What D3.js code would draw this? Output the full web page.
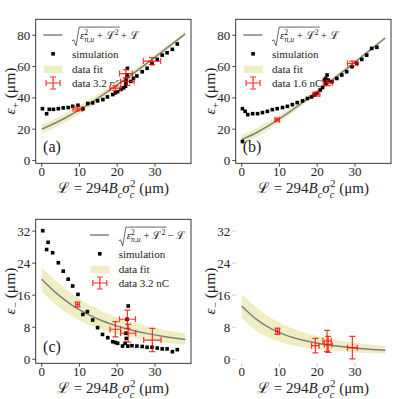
<!DOCTYPE html>
<html>
<head>
<meta charset="utf-8">
<script src="https://cdn.jsdelivr.net/npm/d3@7"></script>
<style>
  body { margin: 0; background: #fff; }
  svg { display: block; font-family: 'Liberation Serif', 'DejaVu Serif', serif; }
</style>
</head>
<body>
<script>

// Ticks.
var xTicks = [0, 10, 20, 30];
var yTicksPlus = [0, 20, 40, 60, 80];
var yTicksMinus = [0, 8, 16, 24, 32];

// Fit curves, sampled along L (um).
var fitL = [0, 4, 8, 12, 16, 20, 24, 28, 32, 38];
var fitPlusA = [20, 24.4, 29.54, 35.32, 41.61, 48.28, 55.24, 62.41, 69.74, 80.94];
var fitPlusALo = [17, 21.46, 26.79, 32.81, 39.35, 46.25, 53.41, 60.76, 68.24, 79.63];
var fitPlusAHi = [23, 27.35, 32.35, 37.94, 44.02, 50.48, 57.24, 64.24, 71.41, 82.42];
var fitPlusB = [13.3, 17.89, 23.52, 29.91, 36.81, 44.02, 51.44, 59.0, 66.65, 78.26];
var fitPlusBLo = [10.3, 15.05, 21.04, 27.81, 35.03, 42.5, 50.12, 57.83, 65.62, 77.37];
var fitPlusBHi = [16.3, 20.78, 26.16, 32.24, 38.84, 45.8, 53.01, 60.4, 67.91, 79.35];
var fitMinusA = [20, 16.4, 13.54, 11.32, 9.61, 8.28, 7.24, 6.41, 5.74, 4.94];
var fitMinusALo = [17, 13.46, 10.79, 8.81, 7.35, 6.25, 5.41, 4.76, 4.24, 3.63];
var fitMinusAHi = [23, 19.35, 16.35, 13.94, 12.02, 10.48, 9.24, 8.24, 7.41, 6.42];
var fitMinusB = [13.3, 9.89, 7.52, 5.91, 4.81, 4.02, 3.44, 3.0, 2.65, 2.26];
var fitMinusBLo = [10.3, 7.05, 5.04, 3.81, 3.03, 2.5, 2.12, 1.83, 1.62, 1.37];
var fitMinusBHi = [16.3, 12.78, 10.16, 8.24, 6.84, 5.8, 5.01, 4.4, 3.91, 3.35];

// Simulation points.
var simA_L = [0.2, 1.3, 2.0, 3.1, 4.4, 5.7, 7.0, 8.2, 9.6, 10.9, 12.2, 13.5, 14.8, 16.2, 17.4, 18.8, 19.5, 20.1, 21.0, 21.7,
  22.2, 22.3, 22.4, 22.6, 22.7, 23.6, 24.3, 25.2, 26.6, 27.9, 29.2, 30.6, 31.9, 33.2, 34.6, 35.9];
var simA_eps = [33.1, 29.9, 32.7, 32.7, 33.1, 33.6, 33.8, 34.6, 35.3, 32.9, 36.4, 36.8, 38.1, 38.9, 40.6, 42.1, 43.2, 44.0, 45.4, 46.4,
  47.5, 49.2, 51.4, 54.6, 58.9, 50.5, 52.5, 54.0, 56.7, 58.9, 62.0, 64.6, 67.3, 68.8, 71.0, 74.4];
var simB_L = [0.2, 0.2, 0.9, 1.6, 2.9, 4.2, 5.5, 6.8, 8.1, 9.4, 10.8, 12.1, 13.4, 14.7, 16.1, 17.4, 18.5, 19.2, 19.9, 20.8,
  21.4, 21.9, 22.2, 22.3, 22.6, 22.9, 23.9, 25.2, 26.5, 27.8, 29.2, 30.5, 31.8, 33.1, 34.4, 35.8];
var simB_eps = [12.1, 33.1, 31.4, 29.3, 29.9, 29.9, 30.6, 31.4, 32.5, 33.1, 33.8, 34.6, 35.7, 37.0, 38.1, 39.6, 40.6, 41.7, 42.8, 45.0,
  46.6, 51.4, 52.4, 49.2, 54.6, 51.4, 50.3, 52.4, 54.6, 56.7, 59.9, 62.0, 64.6, 67.3, 71.6, 72.3];
var simC_L = [0.27, 1.3, 1.7, 2.9, 4.4, 5.7, 7.0, 8.2, 9.6, 10.9, 12.1, 13.5, 14.8, 16.1, 17.5, 18.8, 19.5, 20.1, 21.4, 22.1,
  22.4, 22.3, 22.6, 22.9, 22.8, 23.9, 25.2, 26.6, 27.9, 29.2, 30.6, 31.9, 33.2, 34.6, 35.9];
var simC_eps = [32.1, 27.4, 29.2, 26.6, 24.1, 22.0, 20.0, 18.3, 16.2, 11.2, 11.9, 9.8, 7.9, 6.2, 5.4, 4.4, 4.2, 4.0, 3.3, 4.0,
  5.2, 6.5, 10.0, 13.3, 3.3, 3.4, 3.3, 3.2, 3.0, 3.0, 2.8, 2.6, 2.6, 1.9, 2.4];

// Measured data with errors.
var dataA_L = [9.5, 19.5, 22.3, 22.7, 29.2];
var dataA_eps = [33.0, 46.2, 55.5, 50.5, 63.5];
var dataA_Lerr = [1.2, 1.4, 1.7, 1.8, 2.3];
var dataA_epsErr = [1.3, 1.5, 2.5, 2.5, 2.3];
var dataB_L = [9.4, 19.8, 22.8, 29.3];
var dataB_eps = [26.1, 42.3, 49.6, 62.0];
var dataB_Lerr = [0.6, 0.9, 1.2, 1.3];
var dataB_epsErr = [1.0, 1.2, 1.8, 1.5];
var dataC_L = [9.5, 19.5, 22.7, 22.9, 29.3];
var dataC_eps = [13.7, 7.5, 10.0, 6.5, 4.8];
var dataC_Lerr = [0.5, 1.4, 2.1, 2.0, 2.3];
var dataC_epsErr = [0.6, 1.9, 2.3, 2.2, 2.9];
var dataD_L = [9.5, 19.5, 22.6, 22.9, 29.3];
var dataD_eps = [7.0, 3.4, 4.6, 3.7, 2.9];
var dataD_Lerr = [0.5, 1.0, 1.1, 1.0, 1.3];
var dataD_epsErr = [0.8, 1.8, 2.6, 2.0, 2.8];

var RED = '#ff0000';
var BAND = '#eeeec2';
var FIT = '#808080';

var svg = d3.select('body').append('svg')
  .attr('width', 399)
  .attr('height', 399);

/*
 * Zip two arrays into point objects.
 */
function zip(xs, ys) {
  return xs.map(function(x, i) { return { x: x, y: ys[i] }; });
}

/*
 * Append a text with sub/superscripts as tspans.
 */
function mathText(parent, x, y, parts, size, anchor) {
  var t = parent.append('text')
    .attr('x', x)
    .attr('y', y)
    .attr('font-size', size)
    .attr('fill', '#222')
    .attr('text-anchor', anchor || 'start');
  var shift = 0;
  parts.forEach(function(p) {
    var s = p.sub ? size * 0.3 : p.sup ? -size * 0.4 : 0;
    var ts = t.append('tspan').attr('dy', s - shift).text(p.t);
    if (p.sub || p.sup) ts.attr('font-size', size * 0.7);
    if (p.it) ts.attr('font-style', 'italic');
    if (p.dx) ts.attr('dx', p.dx);
    shift = s;
  });
  return t;
}

/*
 * Legend formula: sqrt(eps_nu^2 + L^2) +/- L.
 */
function rootFormula(parent, x, y, sign) {
  var inner = mathText(parent, x + 8, y, [
    { t: 'ε', it: true }, { t: '2', sup: true }, { t: 'n,u', sub: true, it: true, dx: -3.8 },
    { t: ' + ℒ' }, { t: '2', sup: true }
  ], 11);
  var bb = inner.node().getBBox();
  var top = bb.y - 0.5, bot = bb.y + bb.height + 1.5, end = bb.x + bb.width + 1;
  parent.append('path')
    .attr('d', 'M' + x + ',' + (bot - 5) + 'L' + (x + 1.8) + ',' + (bot - 6) +
      'L' + (x + 4) + ',' + bot + 'L' + (x + 7.2) + ',' + top + 'L' + end + ',' + top)
    .attr('fill', 'none')
    .attr('stroke', '#222')
    .attr('stroke-width', 0.7);
  mathText(parent, end + 1, y, [{ t: ' ' + sign + ' ℒ' }], 11);
}

/*
 * Error bar glyph (horizontal and vertical with caps).
 */
function errorBar(g, cx, cy, hx, hy) {
  var path = 'M' + (cx - hx) + ',' + cy + 'H' + (cx + hx) +
    'M' + cx + ',' + (cy - hy) + 'V' + (cy + hy) +
    'M' + (cx - hx) + ',' + (cy - 3) + 'V' + (cy + 3) +
    'M' + (cx + hx) + ',' + (cy - 3) + 'V' + (cy + 3) +
    'M' + (cx - 3) + ',' + (cy - hy) + 'H' + (cx + 3) +
    'M' + (cx - 3) + ',' + (cy + hy) + 'H' + (cx + 3);
  g.append('path')
    .attr('d', path)
    .attr('fill', 'none')
    .attr('stroke', RED)
    .attr('stroke-opacity', 0.8)
    .attr('stroke-width', 1.2);
}

/*
 * Draw one panel.
 */
function drawPanel(p) {

  var g = svg.append('g');
  var left = p.ox + 35.7, right = p.ox + 191, top = p.oy + 19.3, bottom = p.oy + 163.3;

  var x = d3.scaleLinear().domain([-1.59, 39.53]).range([left, right]);
  var y = d3.scaleLinear().domain(p.yDomain).range([bottom, top]);

  // Legend (drawn first, the data sits on top of it).
  if (p.legend) {
    var lg = g.append('g');
    var lx = p.legend.x, ly = p.legend.y, tx = lx + 28.7;
    lg.append('line')
      .attr('x1', lx).attr('x2', lx + 19).attr('y1', ly).attr('y2', ly)
      .attr('stroke', FIT).attr('stroke-width', 1.5);
    rootFormula(lg, tx, ly + 4, p.sign);
    lg.append('rect')
      .attr('x', lx + 8).attr('y', ly + 17).attr('width', 3.6).attr('height', 3.6)
      .attr('fill', '#000');
    mathText(lg, tx, ly + 23, [{ t: 'simulation' }], 11);
    lg.append('rect')
      .attr('x', lx + 0.5).attr('y', ly + 31).attr('width', 19).attr('height', 7)
      .attr('fill', BAND);
    mathText(lg, tx, ly + 38, [{ t: 'data fit' }], 11);
    errorBar(lg, lx + 9.8, ly + 48, 7, 6);
    mathText(lg, tx, ly + 52, [{ t: p.legend.label }], 11);
  }

  // Fit band and curve.
  var fit = fitL.map(function(L, i) {
    return { x: L, y: p.fit[i], lo: p.fitLo[i], hi: p.fitHi[i] };
  });
  g.append('path')
    .datum(fit)
    .attr('d', d3.area()
      .x(function(d) { return x(d.x); })
      .y0(function(d) { return y(d.lo); })
      .y1(function(d) { return y(d.hi); })
      .curve(d3.curveMonotoneX))
    .attr('fill', BAND);
  g.append('path')
    .datum(fit)
    .attr('d', d3.line()
      .x(function(d) { return x(d.x); })
      .y(function(d) { return y(d.y); })
      .curve(d3.curveMonotoneX))
    .attr('fill', 'none')
    .attr('stroke', FIT)
    .attr('stroke-width', 1.5);

  // Simulation points.
  if (p.simL) {
    g.selectAll('.sim')
      .data(zip(p.simL, p.simEps))
      .enter().append('rect')
      .attr('x', function(d) { return x(d.x) - 1.8; })
      .attr('y', function(d) { return y(d.y) - 1.8; })
      .attr('width', 3.6)
      .attr('height', 3.6)
      .attr('fill', '#000');
  }

  // Data with error bars.
  p.dataL.forEach(function(L, i) {
    var cx = x(L), cy = y(p.dataEps[i]);
    errorBar(g, cx, cy, x(L + p.dataLerr[i]) - cx, cy - y(p.dataEps[i] + p.dataEpsErr[i]));
  });

  // Frame.
  var tickColor = p.plain ? '#bbb' : '#222';
  if (!p.plain) {
    g.append('rect')
      .attr('x', left).attr('y', top)
      .attr('width', right - left).attr('height', bottom - top)
      .attr('fill', 'none')
      .attr('stroke', '#222')
      .attr('stroke-width', 0.9);
  }

  // Axes ticks and labels.
  xTicks.forEach(function(t) {
    g.append('line')
      .attr('x1', x(t)).attr('x2', x(t))
      .attr('y1', bottom).attr('y2', bottom + 3.5)
      .attr('stroke', tickColor).attr('stroke-width', 0.8);
    mathText(g, x(t), bottom + 13, [{ t: String(t) }], 13, 'middle');
  });
  p.yTicks.forEach(function(t) {
    g.append('line')
      .attr('x1', left - 3.5).attr('x2', left)
      .attr('y1', y(t)).attr('y2', y(t))
      .attr('stroke', tickColor).attr('stroke-width', 0.8);
    mathText(g, left - 5.5, y(t) + 4.5, [{ t: String(t) }], 13, 'end');
  });

  // Axis titles.
  mathText(g, p.ox + 113, p.oy + 193, [
    { t: 'ℒ = 294' }, { t: 'B', it: true }, { t: 'c', sub: true, it: true },
    { t: 'σ', it: true }, { t: 'c', sub: true, it: true }, { t: '2', sup: true, dx: -4.2 },
    { t: ' (μm)' }
  ], 15, 'middle');
  var yl = g.append('g')
    .attr('transform', 'translate(' + (p.ox + 14.5) + ',' + (p.oy + 91) + ') rotate(-90)');
  mathText(yl, 0, 0, [{ t: 'ε', it: true }, { t: p.sign, sub: true }, { t: ' (μm)' }], 15.5, 'middle');

  // Panel tag.
  if (p.tag) mathText(g, p.ox + 52, p.oy + 152, [{ t: p.tag }], 16, 'middle');
}

drawPanel({
  ox: 0, oy: 0, yDomain: [-1.8, 90.2], yTicks: yTicksPlus, sign: '+', tag: '(a)',
  fit: fitPlusA, fitLo: fitPlusALo, fitHi: fitPlusAHi,
  simL: simA_L, simEps: simA_eps,
  dataL: dataA_L, dataEps: dataA_eps, dataLerr: dataA_Lerr, dataEpsErr: dataA_epsErr,
  legend: { x: 43.3, y: 35, label: 'data 3.2 nC' }
});

drawPanel({
  ox: 200, oy: 0, yDomain: [-1.8, 90.2], yTicks: yTicksPlus, sign: '+', tag: '(b)',
  fit: fitPlusB, fitLo: fitPlusBLo, fitHi: fitPlusBHi,
  simL: simB_L, simEps: simB_eps,
  dataL: dataB_L, dataEps: dataB_eps, dataLerr: dataB_Lerr, dataEpsErr: dataB_epsErr,
  legend: { x: 243.3, y: 35, label: 'data 1.6 nC' }
});

drawPanel({
  ox: 0, oy: 200, yDomain: [-1, 34.95], yTicks: yTicksMinus, sign: '−', tag: '(c)',
  fit: fitMinusA, fitLo: fitMinusALo, fitHi: fitMinusAHi,
  simL: simC_L, simEps: simC_eps,
  dataL: dataC_L, dataEps: dataC_eps, dataLerr: dataC_Lerr, dataEpsErr: dataC_epsErr,
  legend: { x: 90, y: 235, label: 'data 3.2 nC' }
});

drawPanel({
  ox: 200, oy: 200, yDomain: [-1, 34.95], yTicks: yTicksMinus, sign: '−', plain: true,
  fit: fitMinusB, fitLo: fitMinusBLo, fitHi: fitMinusBHi,
  dataL: dataD_L, dataEps: dataD_eps, dataLerr: dataD_Lerr, dataEpsErr: dataD_epsErr
});

</script>
</body>
</html>
